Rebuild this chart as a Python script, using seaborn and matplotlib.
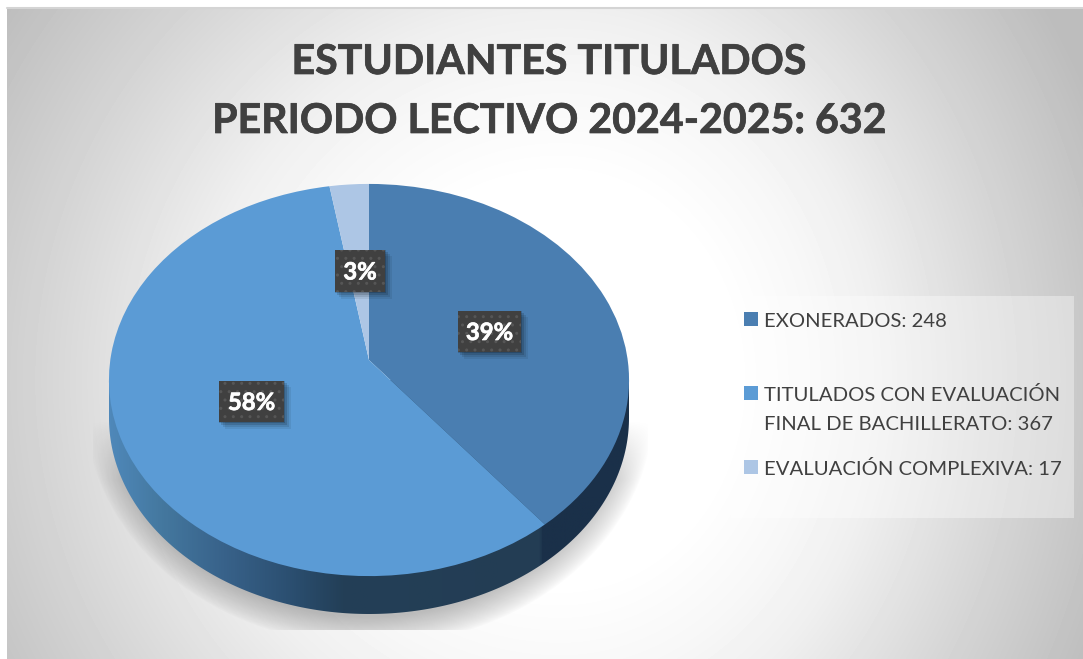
import numpy as np
import matplotlib
matplotlib.use("Agg")
import matplotlib.pyplot as plt
import matplotlib.patheffects as pe
import matplotlib.transforms as mtransforms
from matplotlib.colors import LinearSegmentedColormap
from matplotlib.patches import Rectangle, Polygon
import seaborn as sns

# Datos
categories = ["EXONERADOS: 248",
              "TITULADOS CON EVALUACIÓN\nFINAL DE BACHILLERATO: 367",
              "EVALUACIÓN COMPLEXIVA: 17"]
values = [248, 367, 17]
title_lines = ["ESTUDIANTES TITULADOS", "PERIODO LECTIVO 2024-2025: 632"]
colors = ["#4a7eb1", "#5b9bd5", "#adc6e5"]

W, H = 1083, 659
TEXT = "#404040"

sns.set_theme(style="white")
plt.rcParams["font.family"] = ["Lato", "DejaVu Sans"]


class Perspective(mtransforms.Transform):
    # El pastel está inclinado: el centro no cae en el centro de la elipse
    input_dims = 2
    output_dims = 2

    def transform_non_affine(self, values):
        v = np.asarray(values, dtype=float)
        w = 1 + 0.102 * v[:, 1]
        return np.column_stack((0.995 * v[:, 0] / w, 0.99 * v[:, 1] / w + 0.102))


fig = plt.figure(figsize=(W / 100, H / 100), dpi=100, facecolor="white")

# Fondo en coordenadas de pixel
bg = fig.add_axes([0, 0, 1, 1])
bg.axis("off")

xx, yy = np.meshgrid(np.arange(7, W), np.arange(8, H))
# el lado derecho oscurece un poco más rápido que el izquierdo
r = np.hypot((xx - 560) * np.where(xx > 560, 1.15, 1.0), yy - 380)
shade = 255 - np.interp(r, [200, 300, 370, 520, 670], [0, 8, 16, 42, 66])
bg.imshow(shade, cmap="gray", vmin=0, vmax=255, extent=(7, W, H, 8),
          aspect="auto", interpolation="bilinear")
bg.plot([7, W], [8, 8], color="#d4d4d4", lw=1.5)

# Sombra suave bajo el pastel
sx, sy = np.meshgrid(np.arange(93, 648), np.arange(400, 630))
d = np.hypot((sx - 369) / 285, (sy - 405) / 240)
alpha = np.clip((1.0 - d) / 0.12, 0, 1) ** 0.8 * np.clip((sy - 420) / 60, 0, 1) * 0.25
shadow = np.zeros(sx.shape + (4,))
shadow[..., 3] = alpha
bg.imshow(shadow, extent=(93, 648, 630, 400), aspect="auto", zorder=2)
bg.set_xlim(0, W)
bg.set_ylim(H, 0)

heavy = [pe.withStroke(linewidth=0.5, foreground=TEXT)]

# Título
for line, y in zip(title_lines, [74, 133]):
    bg.text(549, y, line, ha="center", va="baseline", fontsize=29.6,
            fontweight="bold", color=TEXT, path_effects=heavy)

# Leyenda
bg.add_patch(Rectangle((731, 296), 343, 222, fc="white", ec="none", alpha=0.36))
for y, color in zip([312, 386, 460], colors):
    bg.add_patch(Rectangle((744, y), 14, 14, fc=color, ec="none"))
for y, label in zip([327, 401, 475], categories):
    # la primera línea de cada entrada queda alineada con su cuadro
    bg.text(764, y, label.split("\n")[0], ha="left", va="baseline", fontsize=14.6, color=TEXT)
    if "\n" in label:
        bg.text(764, y + 29, label.split("\n")[1], ha="left", va="baseline",
                fontsize=14.6, color=TEXT)

# Pastel
RX, RY = 260, 196
DEPTH = 38 / RY
ax = fig.add_axes([(369 - RX) / W, 1 - (380 + RY + 38) / H, 2 * RX / W, (2 * RY + 38) / H])
wedges, _, pcts = ax.pie(values, colors=colors, startangle=90, counterclock=False,
                         autopct="%.0f%%", radius=1, wedgeprops={"linewidth": 0, "zorder": 3})
ax.set_aspect("auto")
for w in wedges:
    w.set_transform(Perspective() + ax.transData)
    w.set_clip_on(False)

# Pared lateral con degradado
theta = np.linspace(np.pi, 2 * np.pi, 200)
side_cmap = LinearSegmentedColormap.from_list("side", [
    (0.00, "#4f88ba"), (0.10, "#44789f"), (0.22, "#38628a"), (0.36, "#2a4d6e"),
    (0.45, "#233f57"), (0.83, "#233d54"), (0.835, "#1a3049"), (1.00, "#1a3049")])
img = ax.imshow(np.linspace(0, 1, 512)[None, :], cmap=side_cmap, aspect="auto",
                extent=(-1, 1, -1 - DEPTH, 0), zorder=1)
img.set_clip_path(Polygon(np.vstack((np.column_stack((np.cos(theta), np.sin(theta) - DEPTH)),
                                     [[1, 0], [-1, 0]])), transform=ax.transData))
ax.set_xlim(-1, 1)
ax.set_ylim(-1 - DEPTH, 1)

# Etiquetas de porcentaje
label_boxes = [(458, 311, 63, 41), (219, 381, 65, 41), (335, 250, 50, 42)]
for t, (x, y, bw, bh) in zip(pcts, label_boxes):
    for off, a in [(7, 0.07), (5, 0.10), (3, 0.14), (1, 0.18)]:
        ax.add_patch(Rectangle((x + off - 1, y + off - 1), bw + 1, bh + 1, fc="black", ec="none",
                               alpha=a, transform=bg.transData, zorder=4, clip_on=False))
    ax.add_patch(Rectangle((x, y), bw, bh, fc="#404040", ec="#565656", lw=0, hatch="..",
                           transform=bg.transData, zorder=5, clip_on=False))
    t.set_transform(bg.transData)
    t.set_position((x + bw / 2, y + bh / 2 + 1))
    t.set(color="white", fontweight="bold", fontsize=17.2, ha="center", va="center",
          zorder=6, clip_on=False)
    t.set_path_effects([pe.withStroke(linewidth=0.5, foreground="white")])

fig.savefig("out.png", dpi=100)
